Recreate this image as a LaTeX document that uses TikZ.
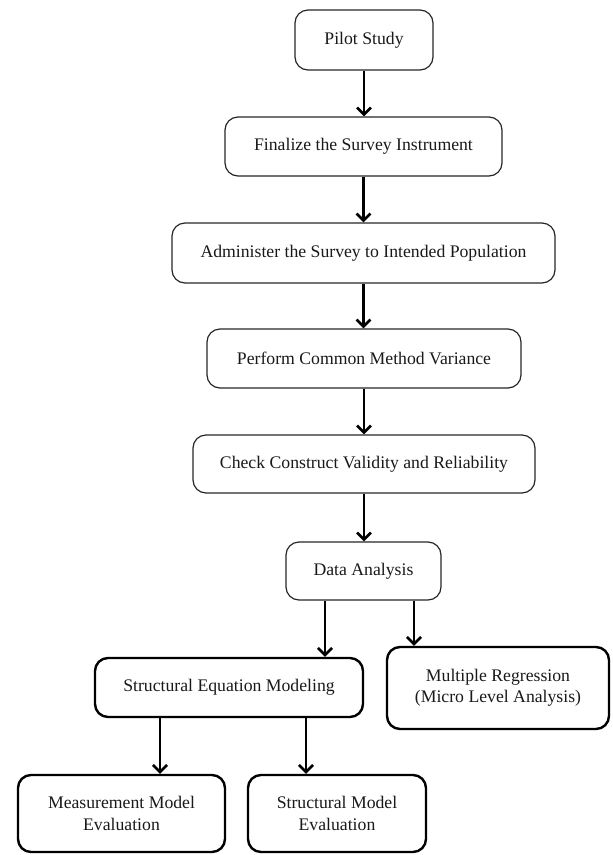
\documentclass[tikz,border=0pt]{standalone}
\usepackage{fontspec}
\setmainfont{Liberation Serif}
\usetikzlibrary{arrows.meta}
\begin{document}
\begin{tikzpicture}[x=1pt,y=-1pt,
  thinbox/.style={draw=black!85, line width=1.2pt, rounded corners=13pt, align=center, inner sep=0pt,
     font=\fontsize{17.7}{21.5}\selectfont, text=black!90},
  thickbox/.style={thinbox, draw=black, line width=2.4pt},
  arr/.style={line width=2.5pt, -{Straight Barb[length=7pt,width=14pt,line width=2.6pt]}}]
\useasboundingbox (0,0) rectangle (613,855);
\node[thinbox, minimum width=138pt, minimum height=60pt] (pilot) at (364,40) {Pilot Study};
\node[thinbox, minimum width=277pt, minimum height=59pt] (final) at (363.5,146.5) {Finalize the Survey Instrument};
\node[thinbox, minimum width=383pt, minimum height=60pt] (admin) at (363.5,253) {Administer the Survey to Intended Population};
\node[thinbox, minimum width=314pt, minimum height=59pt] (cmv) at (364,358.5) {Perform Common Method Variance};
\node[thinbox, minimum width=342pt, minimum height=58pt] (check) at (364,464) {Check Construct Validity and Reliability};
\node[thinbox, minimum width=155pt, minimum height=58pt] (data) at (363.5,571) {Data Analysis};
\node[thickbox, minimum width=268pt, minimum height=59pt] (sem) at (229,687.5) {Structural Equation Modeling};
\node[thickbox, minimum width=222pt, minimum height=82pt] (mr) at (498,688) {Multiple Regression\\(Micro Level Analysis)};
\node[thickbox, minimum width=207pt, minimum height=77pt] (meas) at (121.5,813.5) {Measurement Model\\Evaluation};
\node[thickbox, minimum width=178pt, minimum height=77pt] (struct) at (337,813.5) {Structural Model\\Evaluation};
\draw[arr] (pilot.south) -- (pilot.south |- final.north);
\draw[arr] (final.south) -- (final.south |- admin.north);
\draw[arr] (admin.south) -- (admin.south |- cmv.north);
\draw[arr] (cmv.south) -- (cmv.south |- check.north);
\draw[arr] (check.south) -- (check.south |- data.north);
\draw[arr] ([xshift=-38.5pt]data.south) -- ([xshift=-38.5pt]data.south |- sem.north);
\draw[arr] ([xshift=50.5pt]data.south) -- ([xshift=50.5pt]data.south |- mr.north);
\draw[arr] ([xshift=-69pt]sem.south) -- ([xshift=-69pt]sem.south |- meas.north);
\draw[arr] ([xshift=77pt]sem.south) -- ([xshift=77pt]sem.south |- struct.north);
\end{tikzpicture}
\end{document}
